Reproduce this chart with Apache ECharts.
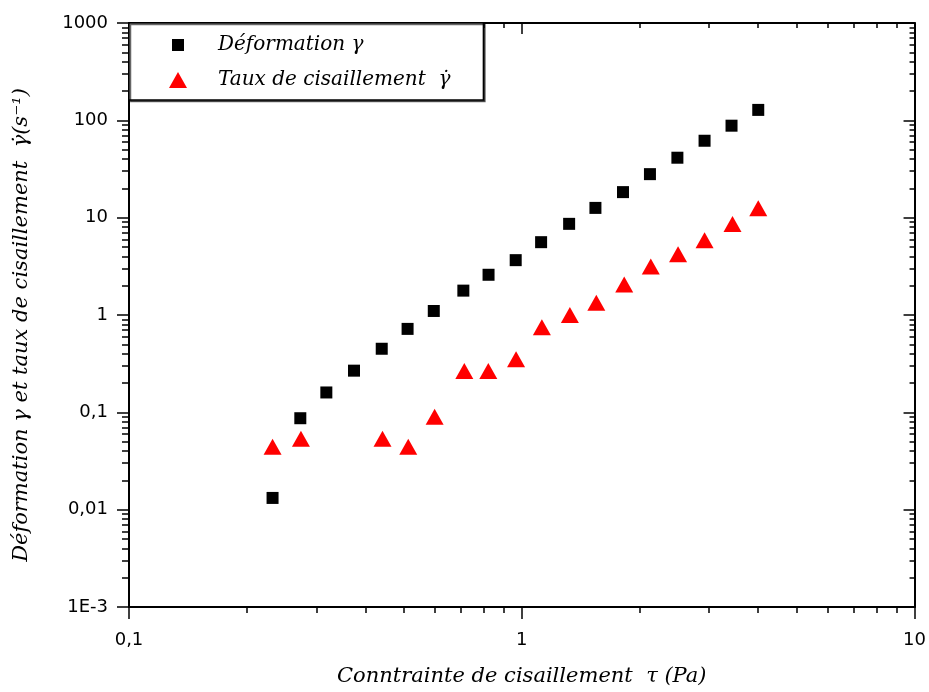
<!DOCTYPE html>
<html>
<head>
<meta charset="utf-8">
<script src="https://cdn.jsdelivr.net/npm/echarts@6/dist/echarts.min.js"></script>
<style>html,body{margin:0;padding:0;background:#fff;}</style>
</head>
<body>
<div id="main" style="width: 929px;height:692px;"></div>
<script>
const tauDef = [0.232, 0.273, 0.318, 0.374, 0.44, 0.512, 0.597, 0.71, 0.823, 0.965, 1.12, 1.32, 1.54, 1.81, 2.12, 2.49, 2.92, 3.42, 4.0];
const deformation = [0.0132, 0.087, 0.16, 0.268, 0.45, 0.72, 1.1, 1.78, 2.59, 3.66, 5.6, 8.64, 12.6, 18.3, 28.0, 41.3, 61.7, 88.1, 128];
const tauRate = [0.232, 0.274, 0.442, 0.514, 0.6, 0.714, 0.822, 0.967, 1.125, 1.326, 1.548, 1.823, 2.13, 2.5, 2.92, 3.44, 4.0];
const rate = [0.0444, 0.0536, 0.0536, 0.0444, 0.09, 0.266, 0.266, 0.352, 0.748, 1.0, 1.34, 2.06, 3.15, 4.21, 5.87, 8.59, 12.5];

const xTickLabels = ['0,1', '1', '10'];
const yTickLabels = ['1E-3', '0,01', '0,1', '1', '10', '100', '1000'];
const seriesNames = ['Déformation γ', 'Taux de cisaillement  γ̇'];

// minor ticks 2..9 of each decade, in log10 units
function minorTicks(fromExp, toExp) {
  const out = [];
  for (let e = fromExp; e < toExp; e++) {
    for (let k = 2; k <= 9; k++) out.push(Math.log10(k) + e);
  }
  return out;
}
const xMinor = minorTicks(-1, 1);
const yMinor = minorTicks(-3, 3);

const black = '#000';
const axisLine = { show: true, onZero: false, lineStyle: { color: black, width: 2 } };
const noLine = { show: false, onZero: false };
const tickLine = { color: black, width: 1.5 };
const labelFont = { fontFamily: 'DejaVu Sans', fontSize: 18, color: black };
const nameFont = { fontFamily: 'DejaVu Serif', fontStyle: 'italic', fontSize: 21, color: black };

const option = {
  animation: false,
  backgroundColor: '#fff',
  grid: { left: 129, right: 11, top: 23, bottom: 82, containLabel: false },
  legend: {
    left: 129,
    top: 23,
    orient: 'vertical',
    padding: [12, 33, 10, 40],
    itemGap: 15,
    itemWidth: 18,
    itemHeight: 16,
    borderColor: black,
    borderWidth: 1.5,
    backgroundColor: '#fff',
    shadowColor: 'rgba(0,0,0,0.6)',
    shadowOffsetX: 1.5,
    shadowOffsetY: 1.5,
    selectedMode: false,
    data: [
      { name: seriesNames[0], icon: 'path://M0,0M18,16M3,2H15V14H3Z' },
      { name: seriesNames[1], icon: 'path://M9,0L18,16H0Z' },
    ],
    textStyle: Object.assign({ padding: [0, 0, 0, 26] }, nameFont, { fontSize: 20 }),
  },
  xAxis: [
    {
      type: 'log', min: 0.1, max: 10, position: 'bottom',
      axisLine: axisLine,
      axisTick: { inside: false, length: 12, lineStyle: tickLine },
      axisLabel: Object.assign({
        margin: 24,
        formatter: v => xTickLabels[Math.round(Math.log10(v)) + 1],
      }, labelFont),
      splitLine: { show: false },
      name: 'Conntrainte de cisaillement  τ (Pa)',
      nameLocation: 'middle',
      nameGap: 59,
      nameTextStyle: nameFont,
    },
    {
      type: 'value', min: -1, max: 1, position: 'bottom',
      axisLine: noLine,
      axisTick: { inside: false, length: 6, customValues: xMinor, lineStyle: tickLine },
      axisLabel: { show: false },
      splitLine: { show: false },
    },
    {
      type: 'log', min: 0.1, max: 10, position: 'top',
      axisLine: axisLine,
      axisTick: { inside: true, length: 11, lineStyle: tickLine },
      axisLabel: { show: false },
      splitLine: { show: false },
    },
    {
      type: 'value', min: -1, max: 1, position: 'top',
      axisLine: noLine,
      axisTick: { inside: true, length: 5, customValues: xMinor, lineStyle: tickLine },
      axisLabel: { show: false },
      splitLine: { show: false },
    },
  ],
  yAxis: [
    {
      type: 'log', min: 0.001, max: 1000, position: 'left',
      axisLine: axisLine,
      axisTick: { inside: false, length: 12, lineStyle: tickLine },
      axisLabel: Object.assign({
        margin: 21,
        formatter: v => yTickLabels[Math.round(Math.log10(v)) + 3],
      }, labelFont),
      splitLine: { show: false },
      name: 'Déformation γ et taux de cisaillement  γ̇(s⁻¹)',
      nameLocation: 'middle',
      nameRotate: 90,
      nameGap: 97,
      nameTextStyle: Object.assign({ padding: [0, 20, 0, 0] }, nameFont),
    },
    {
      type: 'value', min: -3, max: 3, position: 'left',
      axisLine: noLine,
      axisTick: { inside: false, length: 7, customValues: yMinor, lineStyle: tickLine },
      axisLabel: { show: false },
      splitLine: { show: false },
    },
    {
      type: 'log', min: 0.001, max: 1000, position: 'right',
      axisLine: axisLine,
      axisTick: { inside: true, length: 11, lineStyle: tickLine },
      axisLabel: { show: false },
      splitLine: { show: false },
    },
    {
      type: 'value', min: -3, max: 3, position: 'right',
      axisLine: noLine,
      axisTick: { inside: true, length: 5, customValues: yMinor, lineStyle: tickLine },
      axisLabel: { show: false },
      splitLine: { show: false },
    },
  ],
  series: [
    {
      name: seriesNames[0],
      type: 'scatter',
      symbol: 'rect',
      symbolSize: 12,
      itemStyle: { color: black, opacity: 1 },
      data: tauDef.map((x, i) => [x, deformation[i]]),
    },
    {
      name: seriesNames[1],
      type: 'scatter',
      symbol: 'triangle',
      symbolSize: [18, 16],
      itemStyle: { color: '#ff0000', opacity: 1 },
      data: tauRate.map((x, i) => [x, rate[i]]),
    },
  ],
};

const myChart = echarts.init(document.getElementById('main'));
myChart.setOption(option);
</script>
</body>
</html>
